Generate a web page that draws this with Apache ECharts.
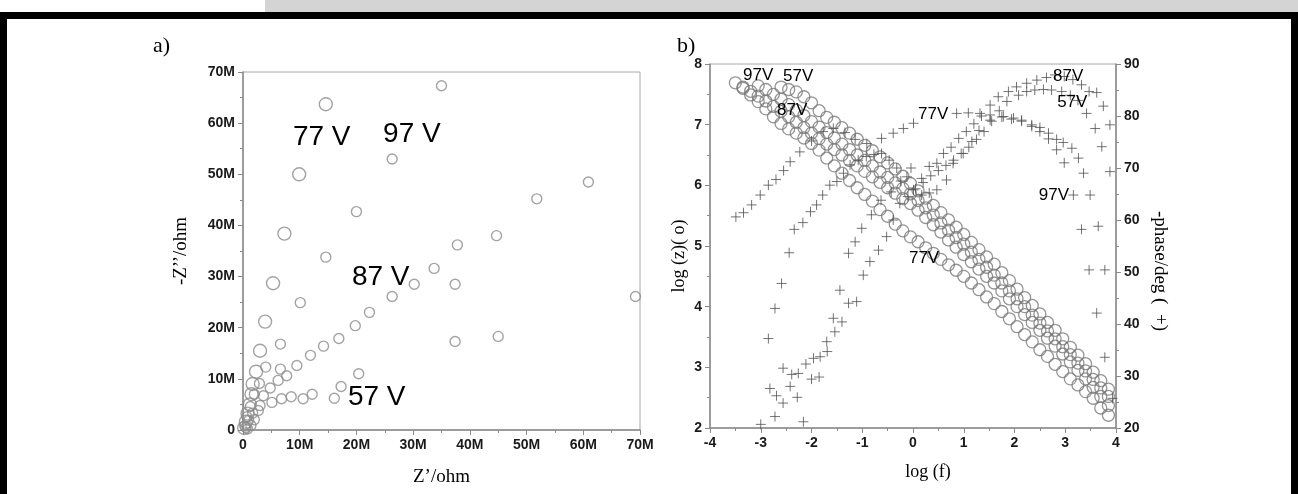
<!DOCTYPE html>
<html>
<head>
<meta charset="utf-8">
<title>EIS plots</title>
<script src="https://cdn.jsdelivr.net/npm/echarts@6/dist/echarts.min.js"></script>
<style>
html, body { margin: 0; padding: 0; background: #fff; }
#wrap { position: relative; width: 1298px; height: 494px; overflow: hidden; background: #fff; }
.band { position: absolute; left: 265px; top: 0; width: 1033px; height: 12px; background: #d4d4d4; }
.edge { position: absolute; background: #000; }
#chart { position: absolute; left: 0; top: 0; width: 1298px; height: 494px; }
</style>
</head>
<body>
<div id="wrap">
  <div class="band"></div>
  <div class="edge" style="left:0;top:12px;width:1298px;height:7px"></div>
  <div class="edge" style="left:0;top:12px;width:7px;height:482px"></div>
  <div class="edge" style="left:1291px;top:12px;width:7px;height:482px"></div>
  <div id="chart"></div>
</div>
<script>
// a) Nyquist, values in Mohm
var nyqRe77 = [0.2, 0.5, 0.8, 1.2, 1.5, 1.7, 2.3, 3.0, 3.9, 5.3, 7.3, 9.9, 14.6];
var nyqIm77 = [0.4, 1.6, 3.2, 5.0, 7.0, 9.0, 11.4, 15.5, 21.2, 28.7, 38.4, 50.0, 63.7];
var nyqRe97 = [0.3, 0.7, 1.3, 2.0, 2.9, 4.0, 6.6, 10.1, 14.6, 20.0, 26.3, 35.0];
var nyqIm97 = [0.8, 2.6, 4.6, 7.0, 9.1, 12.3, 16.8, 24.9, 33.8, 42.7, 53.0, 67.3];
var nyqRe87 = [0.5, 1.0, 1.7, 2.7, 3.6, 4.8, 6.2, 7.7, 9.5, 11.9, 14.2, 16.9, 19.8, 22.3, 26.3, 30.2, 33.7, 37.8, 44.7, 51.8, 60.9];
var nyqIm87 = [0.5, 1.9, 3.3, 3.8, 6.7, 8.2, 9.7, 10.6, 12.6, 14.6, 16.4, 17.9, 20.4, 23.0, 26.1, 28.5, 31.6, 36.2, 38.0, 45.2, 48.5];
var nyqRe57 = [0.8, 1.4, 2.0, 3.0, 5.1, 6.6, 6.8, 8.5, 10.6, 12.2, 16.1, 17.3, 20.4, 37.4, 37.4, 45.0, 69.2];
var nyqIm57 = [0.2, 0.9, 2.0, 4.8, 5.4, 11.9, 6.1, 6.5, 6.1, 7.0, 6.2, 8.5, 11.0, 17.3, 28.5, 18.3, 26.1];
var nyqLabels = ['77 V', '97 V', '87 V', '57 V'];
var nyqLabelX = [8.8, 24.7, 19.2, 18.5];
var nyqLabelY = [57.3, 57.9, 29.8, 6.3];

// b) Bode, |Z| on a shared log f grid
var freqLog = [-3.5, -3.35, -3.2, -3.05, -2.9, -2.75, -2.6, -2.45, -2.3, -2.15, -2.0, -1.85, -1.7, -1.55, -1.4, -1.25, -1.1, -0.95, -0.8, -0.65,
  -0.5, -0.35, -0.2, -0.05, 0.1, 0.25, 0.4, 0.55, 0.7, 0.85, 1.0, 1.15, 1.3, 1.45, 1.6, 1.75, 1.9, 2.05, 2.2, 2.35,
  2.5, 2.65, 2.8, 2.95, 3.1, 3.25, 3.4, 3.55, 3.7, 3.85];
var zLog77 = [7.69, 7.60, 7.49, 7.38, 7.26, 7.13, 7.02, 6.93, 6.86, 6.78, 6.69, 6.58, 6.45, 6.32, 6.20, 6.08, 5.96, 5.85, 5.74, 5.60,
  5.49, 5.36, 5.25, 5.15, 5.07, 4.97, 4.88, 4.78, 4.69, 4.60, 4.50, 4.39, 4.28, 4.16, 4.05, 3.92, 3.80, 3.67, 3.54, 3.42,
  3.29, 3.18, 3.05, 2.93, 2.81, 2.71, 2.60, 2.49, 2.33, 2.21];
var zLog87 = [null, 7.62, 7.55, 7.47, 7.39, 7.30, 7.22, 7.13, 7.04, 6.95, 6.86, 6.77, 6.68, 6.59, 6.50, 6.41, 6.32, 6.23, 6.14, 6.05,
  5.96, 5.87, 5.78, 5.70, 5.59, 5.47, 5.35, 5.23, 5.10, 4.98, 4.86, 4.74, 4.62, 4.50, 4.39, 4.26, 4.13, 4.00, 3.87, 3.74,
  3.61, 3.48, 3.35, 3.22, 3.09, 2.95, 2.81, 2.67, 2.52, 2.37];
var zLog57 = [null, null, null, 7.64, 7.58, 7.50, 7.42, 7.33, 7.24, 7.15, 7.05, 6.96, 6.87, 6.78, 6.68, 6.59, 6.50, 6.41, 6.32, 6.22,
  6.13, 6.04, 5.95, 5.86, 5.75, 5.63, 5.51, 5.38, 5.26, 5.14, 5.03, 4.90, 4.78, 4.65, 4.52, 4.39, 4.26, 4.13, 4.00, 3.86,
  3.73, 3.60, 3.47, 3.34, 3.21, 3.07, 2.94, 2.80, 2.66, 2.52];
var zLog97 = [null, null, null, null, null, null, 7.62, 7.58, 7.54, 7.46, 7.36, 7.23, 7.12, 7.04, 6.95, 6.86, 6.76, 6.66, 6.57, 6.47,
  6.37, 6.27, 6.15, 6.03, 5.91, 5.79, 5.67, 5.55, 5.43, 5.31, 5.19, 5.06, 4.94, 4.82, 4.70, 4.56, 4.43, 4.29, 4.15, 4.02,
  3.88, 3.74, 3.61, 3.47, 3.33, 3.20, 3.06, 2.92, 2.78, 2.64];

// b) Bode, -phase (deg), each run read on its own log f points
var phaseF77 = [-3.49, -3.34, -3.18, -3.01, -2.85, -2.7, -2.55, -2.42, -2.23, -2.0, -1.77, -1.57, -1.34, -1.14, -0.91, -0.62, -0.39, -0.19, 0.01, 0.86,
  1.09, 1.32, 1.52, 1.75, 1.94, 2.14, 2.34, 2.5, 2.67, 2.83, 2.96, 3.13, 3.26, 3.36, 3.49, 3.65, 3.78];
var phase77 = [60.6, 61.4, 62.9, 64.8, 66.7, 67.8, 69.5, 71.2, 73.1, 75.2, 77.0, 77.6, 76.8, 75.5, 74.7, 75.7, 76.7, 77.6, 78.6, 80.5,
  80.6, 80.5, 80.2, 79.8, 79.4, 79.2, 78.3, 77.8, 76.7, 75.5, 74.9, 73.8, 71.9, 69.0, 64.8, 58.8, 50.4];
var phaseF97 = [-2.85, -2.72, -2.59, -2.44, -2.34, -2.17, -2.02, -1.9, -1.78, -1.64, -1.5, -1.37, -1.24, -1.08, -0.92, -0.77, -0.62, -0.47, -0.32, -0.12,
  0.01, 0.17, 0.32, 0.47, 0.66, 0.79, 0.99, 1.16, 1.3, 1.52, 1.78, 1.98, 2.14, 2.34, 2.5, 2.67, 2.83, 2.98, 3.16, 3.32,
  3.47, 3.62, 3.78, 3.93];
var phase97 = [37.2, 43.0, 47.8, 53.7, 58.2, 59.5, 61.6, 62.9, 64.8, 66.7, 67.4, 69.0, 70.6, 71.5, 72.2, 72.6, 72.8, 71.5, 70.0, 68.3,
  65.8, 64.8, 65.2, 65.8, 67.7, 70.9, 72.8, 75.1, 77.2, 79.2, 79.9, 79.6, 79.0, 78.0, 77.0, 75.6, 73.5, 71.0, 64.8, 58.2,
  50.4, 42.1, 33.6, 25.7];
var phaseF87 = [-2.56, -2.39, -2.26, -2.11, -1.96, -1.83, -1.7, -1.57, -1.44, -1.27, -1.14, -1.01, -0.82, -0.63, -0.43, -0.24, -0.04, 0.17, 0.32, 0.47,
  0.6, 0.75, 0.9, 1.05, 1.2, 1.35, 1.52, 1.68, 1.88, 2.04, 2.24, 2.44, 2.63, 2.8, 2.98, 3.15, 3.32, 3.47, 3.62, 3.75, 3.88];
var phase87 = [31.5, 30.3, 30.5, 32.3, 33.4, 33.7, 36.6, 41.1, 46.5, 53.6, 55.8, 58.4, 61.0, 63.8, 65.4, 67.5, 70.0, 68.0, 70.3, 70.9,
  72.8, 74.0, 75.7, 77.0, 78.5, 80.0, 82.1, 83.7, 84.7, 85.6, 86.3, 86.9, 87.4, 87.9, 87.6, 87.0, 86.0, 84.7, 84.5, 81.9, 78.3];
var phaseF57 = [-3.0, -2.82, -2.72, -2.69, -2.56, -2.42, -2.28, -2.16, -2.0, -1.85, -1.69, -1.54, -1.4, -1.27, -1.11, -0.98, -0.85, -0.68, -0.52, -0.39,
  -0.26, -0.1, 0.05, 0.2, 0.35, 0.5, 0.65, 0.8, 0.95, 1.1, 1.25, 1.4, 1.55, 1.7, 1.85, 2.08, 2.24, 2.4, 2.57, 2.73,
  2.93, 3.1, 3.25, 3.42, 3.59, 3.72, 3.88];
var phase57 = [20.7, 27.6, 22.2, 26.2, 24.8, 28.0, 25.9, 21.2, 29.4, 29.8, 34.7, 38.5, 40.4, 44.0, 44.3, 49.4, 52.0, 54.2, 56.8, 60.0,
  63.2, 64.5, 66.0, 67.2, 68.5, 69.5, 70.5, 71.5, 72.8, 74.0, 75.5, 77.0, 79.0, 81.0, 82.8, 84.0, 84.7, 85.0, 85.1, 85.0,
  84.7, 84.0, 83.0, 80.5, 77.6, 74.1, 69.3];

var bodeLabels = ['97V', '57V', '87V', '77V', '87V', '57V', '97V', '77V'];
var bodeLabelX = [-3.35, -2.56, -2.68, 0.1, 2.76, 2.84, 2.48, -0.08];
var bodeLabelY = [7.82, 7.79, 7.24, 7.17, 7.79, 7.37, 5.84, 4.79];

function pairs(xs, ys) {
  var out = [];
  for (var i = 0; i < xs.length; i++) {
    if (ys[i] != null) out.push([xs[i], ys[i]]);
  }
  return out;
}
function labelData(names, xs, ys) {
  return names.map(function (n, i) { return { name: n, value: [xs[i], ys[i]] }; });
}

var tickFont = { fontFamily: 'Liberation Sans, Arial, sans-serif', fontWeight: 'bold', fontSize: 14, color: '#1a1a1a' };
var serifFont = 'Liberation Serif, Times New Roman, serif';
var lineGray = '#8a8a8a';

function valueAxis(opt) {
  var ax = {
    type: 'value',
    axisLine: { show: true, onZero: false, lineStyle: { color: lineGray, width: 1.5 } },
    axisTick: { show: true, inside: false, length: 5, lineStyle: { color: lineGray, width: 1 } },
    minorTick: { show: true, splitNumber: 2, length: 3, lineStyle: { color: lineGray, width: 1 } },
    splitLine: { show: false },
    axisLabel: Object.assign({ margin: 8 }, tickFont),
    nameLocation: 'middle',
    nameTextStyle: { fontFamily: serifFont, fontSize: 19, color: '#000' }
  };
  return Object.assign(ax, opt);
}
function mFormat(v) { return v === 0 ? '0' : v + 'M'; }

var circleA = { color: 'rgba(255,255,255,0)', borderColor: '#8c8c8c', borderWidth: 1.4 };
var circleB = { color: 'rgba(255,255,255,0)', borderColor: '#7a7a7a', borderWidth: 1.3 };
var plusB = { color: 'rgba(255,255,255,0)', borderColor: '#505050', borderWidth: 1 };
var plusPath = 'path://M0,5L10,5M5,0L5,10';

function nyq(name, xs, ys, size) {
  return { name: name, type: 'scatter', xAxisIndex: 0, yAxisIndex: 0, symbol: 'circle', symbolSize: size,
    itemStyle: circleA, data: pairs(xs, ys) };
}
function mod(name, ys) {
  return { name: name, type: 'scatter', xAxisIndex: 1, yAxisIndex: 1, symbol: 'circle', symbolSize: 12,
    itemStyle: circleB, data: pairs(freqLog, ys) };
}
function phs(name, xs, ys) {
  return { name: name, type: 'scatter', xAxisIndex: 1, yAxisIndex: 2, symbol: plusPath, symbolSize: 10,
    itemStyle: plusB, data: pairs(xs, ys) };
}
function textSeries(xi, yi, data, size) {
  return { type: 'scatter', xAxisIndex: xi, yAxisIndex: yi, symbolSize: 0, silent: true, z: 10,
    label: { show: true, position: 'right', distance: 0, formatter: '{b}', fontFamily: 'Liberation Sans, Arial, sans-serif',
      fontSize: size, color: '#000', opacity: 1 },
    emphasis: { disabled: true },
    data: data };
}

var chart = echarts.init(document.getElementById('chart'));
chart.setOption({
  animation: false,
  backgroundColor: 'transparent',
  graphic: [
    { type: 'text', left: 153, top: 35, style: { text: 'a)', font: '22px ' + serifFont, fill: '#000' } },
    { type: 'text', left: 677, top: 35, style: { text: 'b)', font: '22px ' + serifFont, fill: '#000' } }
  ],
  grid: [
    { left: 243, top: 72, width: 397, height: 358, show: true, borderColor: '#a8a8a8', borderWidth: 1 },
    { left: 710, top: 64, width: 406, height: 364, show: true, borderColor: '#a8a8a8', borderWidth: 1 }
  ],
  xAxis: [
    valueAxis({ gridIndex: 0, min: 0, max: 70, interval: 10, name: 'Z\u2019/ohm', nameGap: 38,
      axisLabel: Object.assign({ margin: 8, formatter: mFormat }, tickFont) }),
    valueAxis({ gridIndex: 1, min: -4, max: 4, interval: 1, name: 'log (f)', nameGap: 35,
      nameTextStyle: { fontFamily: serifFont, fontSize: 18, color: '#000', padding: [0, 0, 0, 30] } })
  ],
  yAxis: [
    valueAxis({ gridIndex: 0, min: 0, max: 70, interval: 10, name: '-Z\u2019\u2019/ohm', nameGap: 52,
      axisLabel: Object.assign({ margin: 8, formatter: mFormat }, tickFont) }),
    valueAxis({ gridIndex: 1, min: 2, max: 8, interval: 1, name: 'log (z)( o)', nameGap: 22,
      nameTextStyle: { fontFamily: serifFont, fontSize: 18, color: '#000', padding: [0, 20, 0, 0] } }),
    valueAxis({ gridIndex: 1, position: 'right', min: 20, max: 90, interval: 10, name: '-phase/deg (  +)', nameGap: 34,
      nameRotate: -90, nameTextStyle: { fontFamily: serifFont, fontSize: 19, color: '#000', padding: [0, 0, 0, 50] } })
  ],
  series: [
    nyq('57 V', nyqRe57, nyqIm57, 10),
    nyq('77 V', nyqRe77, nyqIm77, 13),
    nyq('87 V', nyqRe87, nyqIm87, 10),
    nyq('97 V', nyqRe97, nyqIm97, 10),
    textSeries(0, 0, labelData(nyqLabels, nyqLabelX, nyqLabelY), 28),
    mod('57V |Z|', zLog57),
    mod('77V |Z|', zLog77),
    mod('87V |Z|', zLog87),
    mod('97V |Z|', zLog97),
    phs('57V phase', phaseF57, phase57),
    phs('77V phase', phaseF77, phase77),
    phs('87V phase', phaseF87, phase87),
    phs('97V phase', phaseF97, phase97),
    textSeries(1, 1, labelData(bodeLabels, bodeLabelX, bodeLabelY), 17)
  ]
});
window.addEventListener('resize', function () { chart.resize(); });
</script>
</body>
</html>
